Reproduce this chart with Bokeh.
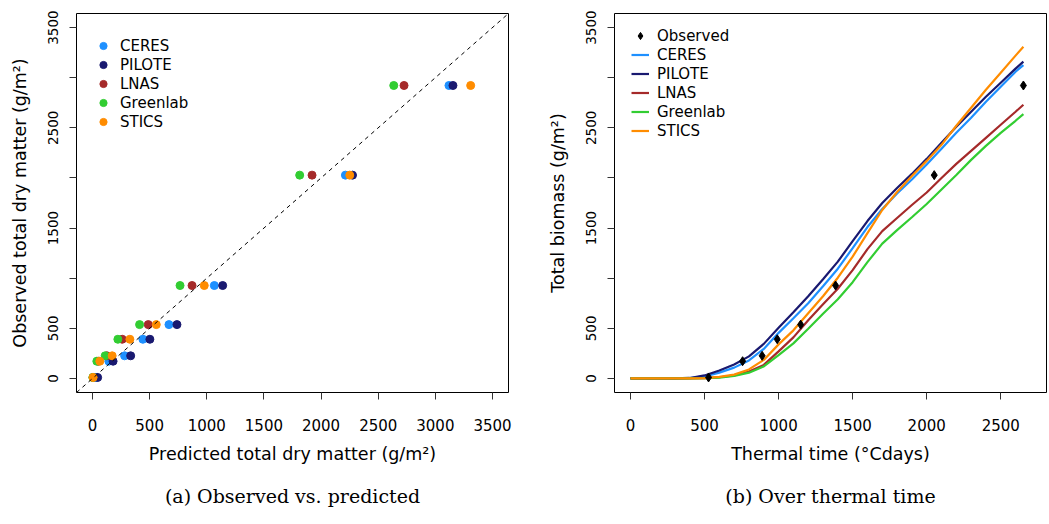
from bokeh.plotting import figure
from bokeh.models import Range1d, FixedTicker, Slope, Legend, LegendItem, Title
from bokeh.layouts import row
from bokeh.embed import file_html
from bokeh.resources import INLINE

# ---------------- data ----------------
models = ["CERES", "PILOTE", "LNAS", "Greenlab", "STICS"]
model_colors = ["#1E90FF", "#191970", "#A52A2A", "#32CD32", "#FF8C00"]

# observations (thermal time, observed total dry matter)
obs_tt = [527, 757, 889, 991, 1149, 1385, 2051, 2653]
obs_biomass = [10, 172, 226, 391, 537, 927, 2028, 2922]

# predicted values at the observation dates
pred_ceres = [30, 143, 281, 441, 669, 1066, 2213, 3119]
pred_pilote = [45, 180, 334, 502, 739, 1139, 2275, 3154]
pred_lnas = [5, 50, 126, 260, 488, 871, 1921, 2726]
pred_greenlab = [3, 38, 111, 222, 412, 766, 1813, 2636]
pred_stics = [5, 64, 172, 327, 558, 978, 2251, 3309]

# simulated curves over thermal time
tt = [0, 300, 400, 500, 600, 700, 800, 900, 1000, 1100, 1200, 1300, 1400,
      1500, 1600, 1700, 1800, 1900, 2000, 2100, 2200, 2300, 2400, 2500,
      2600, 2653]
curve_ceres = [0, 0, 3, 20, 58, 108, 180, 295, 455, 600, 750, 920, 1095,
               1300, 1510, 1690, 1845, 1985, 2135, 2290, 2450, 2600, 2760,
               2910, 3060, 3125]
curve_pilote = [0, 0, 5, 30, 80, 140, 220, 345, 505, 660, 820, 990, 1165,
                1370, 1570, 1750, 1900, 2040, 2190, 2350, 2510, 2660, 2810,
                2950, 3090, 3160]
curve_lnas = [0, 0, 0, 3, 12, 30, 70, 135, 270, 410, 580, 740, 895,
              1080, 1290, 1470, 1600, 1730, 1855, 2000, 2140, 2270, 2400,
              2530, 2660, 2730]
curve_greenlab = [0, 0, 0, 2, 9, 25, 58, 120, 232, 350, 495, 645, 790,
                  960, 1160, 1345, 1480, 1608, 1740, 1885, 2030, 2180, 2320,
                  2450, 2570, 2636]
curve_stics = [0, 0, 0, 3, 15, 38, 90, 185, 340, 480, 650, 820, 1005,
               1215, 1450, 1680, 1860, 2020, 2170, 2330, 2520, 2700, 2880,
               3050, 3220, 3309]

preds = [pred_ceres, pred_pilote, pred_lnas, pred_greenlab, pred_stics]
curves = [curve_ceres, curve_pilote, curve_lnas, curve_greenlab, curve_stics]

y_ticks = [0, 500, 1000, 1500, 2000, 2500, 3000, 3500]
y_hidden = {1000: "", 2000: "", 3000: ""}
x1_ticks = [0, 500, 1000, 1500, 2000, 2500, 3000, 3500]
x2_ticks = [0, 500, 1000, 1500, 2000, 2500]

SANS = "DejaVu Sans"
SERIF = "DejaVu Serif"


def style(p, xticks):
    p.outline_line_color = "black"
    p.outline_line_width = 1
    p.xgrid.visible = False
    p.ygrid.visible = False
    p.background_fill_color = "white"
    p.border_fill_color = "white"
    p.xaxis.ticker = FixedTicker(ticks=xticks)
    p.yaxis.ticker = FixedTicker(ticks=y_ticks)
    p.yaxis.major_label_overrides = y_hidden
    for ax in (p.xaxis[0], p.yaxis[0]):
        ax.axis_line_color = None
        ax.major_tick_in = 0
        ax.major_tick_out = 7
        ax.major_tick_line_color = "#333333"
        ax.minor_tick_line_color = None
        ax.major_label_text_font = SANS
        ax.major_label_text_color = "black"
        ax.axis_label_text_font = SANS
        ax.axis_label_text_font_style = "normal"
        ax.axis_label_text_color = "black"
        ax.axis_label_text_font_size = "17.5px"
    p.xaxis.major_label_text_font_size = "15px"
    p.xaxis.major_label_standoff = 19
    p.xaxis.axis_label_standoff = 10
    p.yaxis.major_label_text_font_size = "13.5px"
    p.yaxis.major_label_orientation = "vertical"
    p.yaxis.major_label_standoff = 11
    p.yaxis.axis_label_standoff = 16


def make_legend(items, loc, gw, standoff):
    return Legend(items=items, location=loc, border_line_color=None,
                  background_fill_alpha=0, padding=5, spacing=0, margin=0,
                  glyph_width=gw, glyph_height=19, label_height=19,
                  label_standoff=standoff, label_text_font=SANS,
                  label_text_color="black", label_text_font_size="15px")


def caption(text):
    return Title(text=text, align="center", text_font=SERIF,
                 text_font_size="19px", text_font_style="normal",
                 text_color="black", standoff=32)


# ---------------- (a) observed vs predicted ----------------
p1 = figure(width=538, height=522, output_backend="svg", toolbar_location=None,
            title=None, x_range=Range1d(-140, 3640), y_range=Range1d(-140, 3640),
            min_border_left=76, min_border_right=30, min_border_top=13,
            min_border_bottom=129)
style(p1, x1_ticks)
p1.xaxis.axis_label = "Predicted total dry matter (g/m²)"
p1.yaxis.axis_label = "Observed total dry matter (g/m²)"
p1.add_layout(Slope(gradient=1, y_intercept=0, line_color="black",
                    line_width=1, line_dash="4 4"))

items1 = []
for name, col, pr in zip(models, model_colors, preds):
    r = p1.scatter(pr, obs_biomass, size=8, marker="circle",
                   fill_color=col, line_color=col)
    items1.append(LegendItem(label=name, renderers=[r]))
p1.add_layout(make_legend(items1, (18, 261), 18, 8))
p1.add_layout(caption("(a) Observed vs. predicted"), "below")

# ---------------- (b) over thermal time ----------------
p2 = figure(width=511, height=522, output_backend="svg", toolbar_location=None,
            title=None, x_range=Range1d(-108, 2809), y_range=Range1d(-140, 3640),
            min_border_left=76, min_border_right=3, min_border_top=13,
            min_border_bottom=129)
style(p2, x2_ticks)
p2.xaxis.axis_label = "Thermal time (°Cdays)"
p2.yaxis.axis_label = "Total biomass (g/m²)"

line_items = []
for name, col, cv in zip(models, model_colors, curves):
    r = p2.line(tt, cv, line_color=col, line_width=2.2)
    line_items.append(LegendItem(label=name, renderers=[r]))
ro = p2.scatter(obs_tt, obs_biomass, marker="diamond", size=9,
                fill_color="black", line_color="black")
items2 = [LegendItem(label="Observed", renderers=[ro])] + line_items
p2.add_layout(make_legend(items2, (17, 252), 18, 8))
p2.add_layout(caption("(b) Over thermal time"), "below")

layout = row(p1, p2)
open("out.html", "w").write(file_html(layout, INLINE))
